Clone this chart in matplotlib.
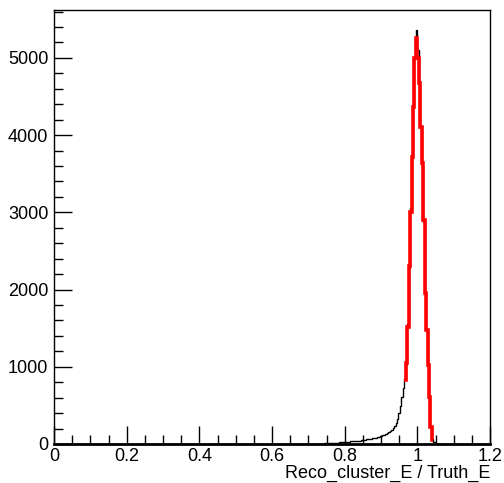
import numpy as np
import matplotlib
matplotlib.use("Agg")
import matplotlib.pyplot as plt
from matplotlib.ticker import MultipleLocator, FuncFormatter

# histogram binning: 300 bins between 0 and 1.2
x_min, x_max, n_bins = 0.0, 1.2, 300
first_bin = 0.700  # first filled bin edge

# counts per 0.004 bin, starting at 0.700
tail_counts = [0, 1, 0, 2, 1, 3, 2, 4, 3, 5,
               6, 8, 7, 9, 11, 10, 13, 12, 15, 17,
               18, 20, 22, 21, 25, 27, 30, 28, 32, 34,
               36, 38, 40, 42, 45, 44, 48, 52, 55, 58,
               60, 63, 67, 70, 74, 78, 83, 88, 93, 99,
               105, 112, 120, 128, 138, 150, 165, 182, 205, 235,
               275, 330, 400, 490, 610, 720]
peak_counts = [840, 1040, 1560, 2280, 3050, 3700, 4400, 4980, 5360, 5100,
               4690, 4120, 3600, 2880, 1960, 1460, 1030, 600, 230, 60,
               20, 8, 3, 1]

# gaussian fit, drawn per bin from 0.964
fit_start = 0.964
fit_values = [830, 1050, 1520, 2300, 3010, 3720, 4370, 5000, 5260, 5000,
              4670, 4100, 3640, 2900, 1950, 1480, 1020, 610, 225, 50]

x_ticks = [0, 0.2, 0.4, 0.6, 0.8, 1, 1.2]
y_ticks = [0, 1000, 2000, 3000, 4000, 5000]
x_title = "Reco_cluster_E / Truth_E"

edges = np.linspace(x_min, x_max, n_bins + 1)
width = (x_max - x_min) / n_bins
counts = np.zeros(n_bins)
i0 = int(round(first_bin / width))
all_filled = tail_counts + peak_counts
counts[i0:i0 + len(all_filled)] = all_filled

fit_edges = fit_start + width * np.arange(len(fit_values) + 1)

plt.rcParams['font.family'] = ['Liberation Sans', 'DejaVu Sans']

fig = plt.figure(figsize=(5.04, 4.83), dpi=100)
ax = fig.add_axes([54 / 504, 39 / 483, 436 / 504, 434 / 483])

ax.stairs(counts, edges, color='black', lw=1.0)
ax.stairs(fit_values, fit_edges, color='red', lw=2.6, baseline=None)

ax.set_xlim(x_min, x_max)
ax.set_ylim(0, 5620)

ax.set_xticks(x_ticks)
ax.set_yticks(y_ticks)
ax.xaxis.set_minor_locator(MultipleLocator(0.05))
ax.yaxis.set_minor_locator(MultipleLocator(200))
ax.xaxis.set_major_formatter(FuncFormatter(lambda v, p: f"{v:g}"))
ax.yaxis.set_major_formatter(FuncFormatter(lambda v, p: f"{v:g}"))

ax.tick_params(which='both', direction='in', top=False, right=False,
               labelsize=13, width=1.0, colors='black')
ax.tick_params(which='major', length=13)
ax.tick_params(axis='y', which='major', pad=4)
ax.tick_params(axis='x', which='major', pad=3)
ax.tick_params(which='minor', length=6.5)

for spine in ax.spines.values():
    spine.set_linewidth(1.0)
ax.spines['bottom'].set_linewidth(2.0)

ax.set_xlabel(x_title, fontsize=13, loc='right', labelpad=0)

fig.savefig("out.png", dpi=100)
